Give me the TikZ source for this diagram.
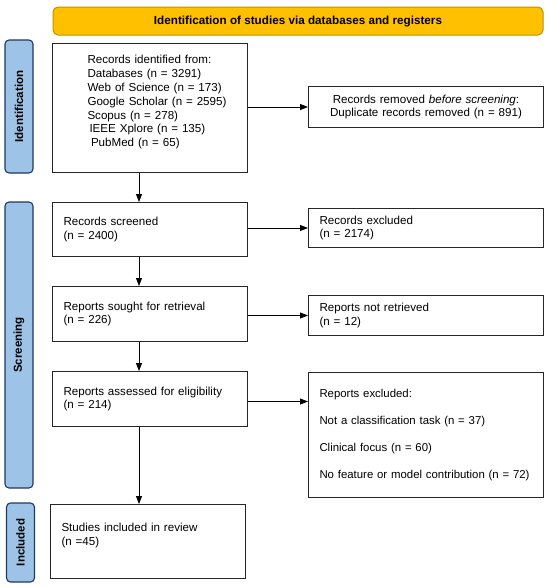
\documentclass[tikz,border=0pt]{standalone}
\usepackage{fontspec}
\setmainfont{Liberation Sans}
\usetikzlibrary{arrows.meta}
\definecolor{bannerfill}{HTML}{FFC000}
\definecolor{bannerdraw}{HTML}{BF9000}
\definecolor{sidefill}{HTML}{9DC3E6}
\definecolor{sidedraw}{HTML}{203864}
\definecolor{boxdraw}{HTML}{262626}
\begin{document}
\begin{tikzpicture}[x=1pt,y=-1pt,
  box/.style={draw=boxdraw, line width=1pt, anchor=north west, inner ysep=0pt,
    inner xsep=11pt, align=left, font=\fontsize{11.6}{13.8}\selectfont},
  cbox/.style={draw=boxdraw, line width=1pt, anchor=north west, inner ysep=0pt,
    inner xsep=0pt, align=center, font=\fontsize{11.6}{13.8}\selectfont},
  side/.style={draw=sidedraw, fill=sidefill, line width=1.1pt, rounded corners=4pt,
    rotate=90, minimum height=28pt, inner sep=0pt, font=\bfseries\fontsize{11.5}{13}\selectfont},
  banner/.style={draw=bannerdraw, fill=bannerfill, line width=1pt, rounded corners=5pt,
    minimum width=490pt, minimum height=28pt, inner sep=0pt, font=\bfseries\fontsize{11.7}{13}\selectfont},
  arr/.style={draw=black, line width=0.8pt, -{Triangle[length=8pt,width=6pt]}}
]
\useasboundingbox (0,0) rectangle (550,587);

% banner
\node[banner] (ban) at (298,21) {Identification of studies via databases and registers};

% side labels
\node[side, minimum width=133pt] (sid) at (19,106.5) {Identification};
\node[side, minimum width=286pt] (sscr) at (19,345) {Screening};
\node[side, minimum width=79pt] (sinc) at (20.5,542.5) {Included};

% left column
\node[box, text width=173pt, minimum height=129pt] (rec) at (52,43)
  {\hspace*{24pt}Records identified from:\\
   \hspace*{24pt}Databases (n = 3291)\\
   \hspace*{24pt}Web of Science (n = 173)\\
   \hspace*{24pt}Google Scholar (n = 2595)\\
   \hspace*{24pt}Scopus (n = 278)\\
   \hspace*{26pt}IEEE Xplore (n = 135)\\
   \hspace*{27.5pt}PubMed (n = 65)\\ \mbox{}};
\node[box, text width=173pt, minimum height=54pt] (scr) at (52,202)
  {Records screened\\(n = 2400)};
\node[box, text width=173pt, minimum height=55pt] (sou) at (52,286)
  {Reports sought for retrieval\\(n = 226)};
\node[box, text width=173pt, minimum height=55pt] (ass) at (52,371)
  {Reports assessed for eligibility\\(n = 214)};
\node[box, text width=173pt, minimum height=74pt] (inc) at (50,504)
  {Studies included in review\\(n =45)\\ \mbox{}};

% right column
\node[cbox, text width=235pt, minimum height=41pt] (rem) at (308,86)
  {Records removed \textit{before screening}:\\Duplicate records removed (n = 891)};
\node[box, text width=213pt, minimum height=39pt] (exc) at (308,208)
  {Records excluded\\(n = 2174)};
\node[box, text width=213pt, minimum height=40pt] (nrt) at (308,295)
  {Reports not retrieved\\(n = 12)};
\node[box, text width=213pt, minimum height=125pt, font=\fontsize{11.4}{27}\selectfont] (rex) at (308,372)
  {Reports excluded:\\
   Not a classification task (n = 37)\\
   Clinical focus (n = 60)\\
   No feature or model contribution (n~=~72)};

% connectors
\coordinate (ax) at (139,0);
\draw[arr] (rec.south -| ax) -- (scr.north -| ax);
\draw[arr] (scr.south -| ax) -- (sou.north -| ax);
\draw[arr] (sou.south -| ax) -- (ass.north -| ax);
\draw[arr] (ass.south -| ax) -- (inc.north -| ax);

\draw[arr] (rec.east |- rem.west) -- (rem.west);
\draw[arr] (scr.east |- exc.west) -- (exc.west);
\draw[arr] (sou.east |- nrt.west) -- (nrt.west);
\draw[arr] ([yshift=-2.5pt]ass.east) -- ([yshift=-2.5pt]ass.east -| rex.west);
\end{tikzpicture}
\end{document}
